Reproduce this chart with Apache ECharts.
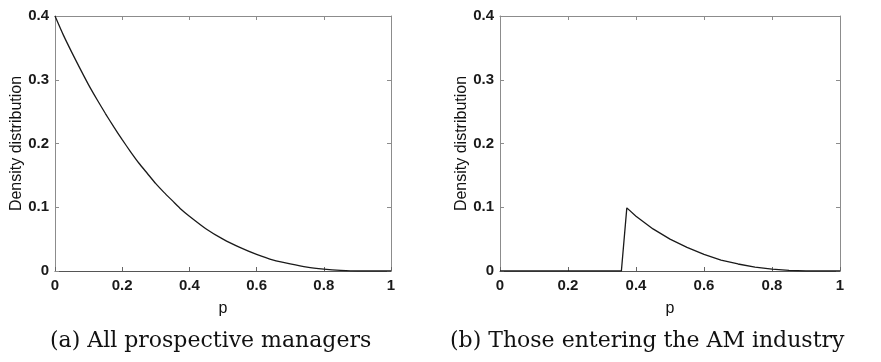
<!DOCTYPE html>
<html>
<head>
<meta charset="utf-8">
<script src="https://cdn.jsdelivr.net/npm/echarts@6/dist/echarts.min.js"></script>
<style>
  html, body { margin: 0; padding: 0; background: #fff; }
  #chart { width: 881px; height: 362px; }
</style>
</head>
<body>
<div id="chart"></div>
<script>
// Density of p for all prospective managers
const pAll = [0, 0.025, 0.05, 0.075, 0.1, 0.125, 0.15, 0.175, 0.2, 0.225, 0.25, 0.275, 0.3,
  0.325, 0.35, 0.375, 0.4, 0.45, 0.5, 0.55, 0.6, 0.65, 0.7, 0.75, 0.8, 0.85, 0.9, 0.95, 1];
const densityAll = [0.400, 0.370, 0.343, 0.317, 0.292, 0.269, 0.247, 0.226, 0.206, 0.187, 0.169,
  0.153, 0.137, 0.123, 0.110, 0.097, 0.086, 0.066, 0.050, 0.037, 0.026, 0.017, 0.011, 0.006,
  0.003, 0.001, 0.000, 0.000, 0.000];

// Density of p for those entering the AM industry
const pEntering = [0, 0.357, 0.373, 0.4, 0.45, 0.5, 0.55, 0.6, 0.65, 0.7, 0.75, 0.8, 0.85, 0.9, 0.95, 1];
const densityEntering = [0, 0, 0.099, 0.086, 0.066, 0.050, 0.037, 0.026, 0.017, 0.011, 0.006,
  0.003, 0.001, 0.000, 0.000, 0.000];

const captions = ['(a) All prospective managers', '(b) Those entering the AM industry'];
const xTitle = 'p';
const yTitle = 'Density distribution';

const pairs = (xs, ys) => xs.map((x, i) => [x, ys[i]]);

const frameColor = '#8c8c8c';
const labelFont = { fontFamily: 'Liberation Sans', fontSize: 15, fontWeight: 'bold', color: '#1a1a1a' };

function bottomAxis(gridIndex) {
  return {
    type: 'value', gridIndex, min: 0, max: 1, interval: 0.2, position: 'bottom',
    name: xTitle, nameLocation: 'middle', nameGap: 30,
    nameTextStyle: { fontFamily: 'Liberation Sans', fontSize: 16, color: '#111' },
    axisLine: { onZero: false, lineStyle: { color: '#555', width: 1 } },
    axisTick: { inside: true, length: 4, lineStyle: { color: '#666' } },
    axisLabel: Object.assign({ margin: 7 }, labelFont),
    splitLine: { show: false }
  };
}
function topAxis(gridIndex) {
  return {
    type: 'value', gridIndex, min: 0, max: 1, interval: 0.2, position: 'top',
    axisLine: { onZero: false, lineStyle: { color: frameColor, width: 1 } },
    axisTick: { inside: true, length: 4, lineStyle: { color: frameColor } },
    axisLabel: { show: false }, splitLine: { show: false }
  };
}
function leftAxis(gridIndex) {
  return {
    type: 'value', gridIndex, min: 0, max: 0.4, interval: 0.1, position: 'left',
    name: yTitle, nameLocation: 'middle', nameGap: 29, nameRotate: 90,
    nameTextStyle: { fontFamily: 'Liberation Sans', fontSize: 16, color: '#111' },
    axisLine: { onZero: false, lineStyle: { color: frameColor, width: 1 } },
    axisTick: { inside: true, length: 4, lineStyle: { color: frameColor } },
    axisLabel: Object.assign({ margin: 6 }, labelFont),
    splitLine: { show: false }
  };
}
function rightAxis(gridIndex) {
  return {
    type: 'value', gridIndex, min: 0, max: 0.4, interval: 0.1, position: 'right',
    axisLine: { onZero: false, lineStyle: { color: frameColor, width: 1 } },
    axisTick: { inside: true, length: 4, lineStyle: { color: frameColor } },
    axisLabel: { show: false }, splitLine: { show: false }
  };
}

const curveStyle = { color: '#1a1a1a', width: 1.3 };

const chart = echarts.init(document.getElementById('chart'), null, { renderer: 'canvas' });
chart.setOption({
  animation: false,
  backgroundColor: '#fff',
  title: [
    { text: captions[0], left: 45, top: 325,
      textStyle: { fontFamily: 'DejaVu Serif', fontSize: 22, fontWeight: 'normal', color: '#111' } },
    { text: captions[1], left: 445, top: 325,
      textStyle: { fontFamily: 'DejaVu Serif', fontSize: 22, fontWeight: 'normal', color: '#111' } }
  ],
  grid: [
    { left: 55, top: 16, width: 336, height: 255 },
    { left: 500, top: 16, width: 340, height: 255 }
  ],
  xAxis: [bottomAxis(0), bottomAxis(1), topAxis(0), topAxis(1)],
  yAxis: [leftAxis(0), leftAxis(1), rightAxis(0), rightAxis(1)],
  series: [
    { type: 'line', xAxisIndex: 0, yAxisIndex: 0, data: pairs(pAll, densityAll),
      showSymbol: false, smooth: 0.2, lineStyle: curveStyle, z: 5 },
    { type: 'line', xAxisIndex: 1, yAxisIndex: 1, data: pairs(pEntering, densityEntering),
      showSymbol: false, smooth: false, lineStyle: curveStyle, z: 5 }
  ]
});
</script>
</body>
</html>
